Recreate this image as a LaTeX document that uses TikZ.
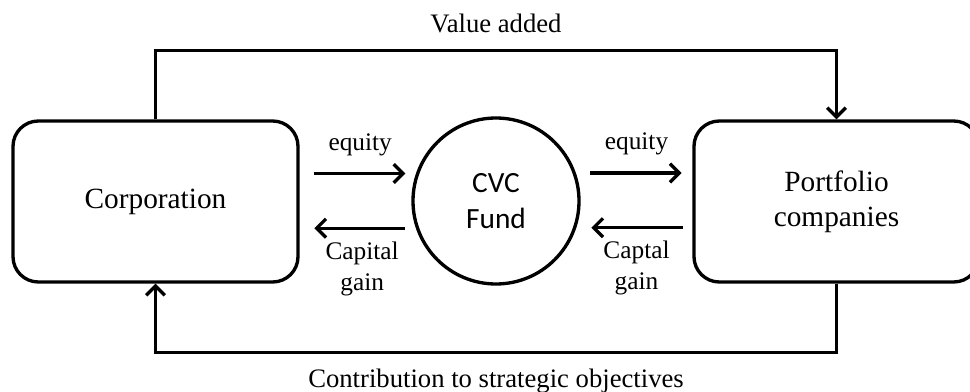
\documentclass[tikz,border=0pt]{standalone}
\usepackage{fontspec}
\setmainfont{Liberation Serif}
\newfontfamily\fundfont{Carlito}
\usetikzlibrary{arrows.meta,positioning}
\tikzset{every picture/.style={line width=2.5pt}}
\tikzset{
  party/.style={draw, rounded corners=19pt, minimum width=213.75pt, minimum height=120.75pt,
    align=center, font=\fontsize{22}{26}\selectfont},
  fundcircle/.style={draw, circle, minimum size=124.5pt, inner sep=0pt, align=center,
    font=\fundfont\fontsize{22}{27}\selectfont},
  flow/.style={-{Straight Barb[length=7pt,width=14pt]}},
  flowlabel/.style={font=\fontsize{19}{23}\selectfont, align=center, inner sep=0pt},
  looplabel/.style={font=\fontsize{20}{24}\selectfont, inner sep=0pt},
}

\begin{document}
\begin{tikzpicture}[x=0.75pt,y=0.75pt,yscale=-1,xscale=1]
\clip (0,0) rectangle (970,392);

%Shape: Rounded Rect
\node[party] (corp) at (155.5,201.5) {Corporation};
%Shape: Circle
\node[fundcircle] (fund) at (496,201) {CVC\\Fund};
%Shape: Rounded Rect
\node[party] (port) at (836.5,201.5) {Portfolio\\companies};

%Straight Lines (yshift follows yscale=-1, so minus is up)
\draw[flow, shorten <=10.5pt, shorten >=4.5pt] ([yshift=-21pt]corp.east) -- ([yshift=-21pt]corp.east -| fund.west)
  node[flowlabel, midway, above=12pt, xshift=3.5pt] (eqin) {equity};
\draw[flow, shorten <=5pt, shorten >=11pt] ([yshift=20pt]corp.east -| fund.west) -- ([yshift=20pt]corp.east)
  node[flowlabel, midway, below=9pt, xshift=5pt] (gainout) {Capital\\gain};
\draw[flow, shorten <=7pt, shorten >=8pt] ([yshift=-21pt]fund.east) -- ([yshift=-21pt]fund.east -| port.west)
  node[flowlabel, midway, above=12pt] (eqout) {equity};
\draw[flow, shorten <=7pt, shorten >=8pt] ([yshift=20pt]fund.east -| port.west) -- ([yshift=20pt]fund.east)
  node[flowlabel, midway, below=9pt] (gainin) {Captal\\gain};

%Loop Lines
\draw[flow] (corp.north) -- ++(0,-69) -| node[looplabel, pos=0.25, above=12pt] (valadd) {Value added} (port.north);
\draw[flow] (port.south) -- ++(0,69) -| node[looplabel, pos=0.25, below=11pt] (contrib) {Contribution to strategic objectives} (corp.south);

\end{tikzpicture}
\end{document}
